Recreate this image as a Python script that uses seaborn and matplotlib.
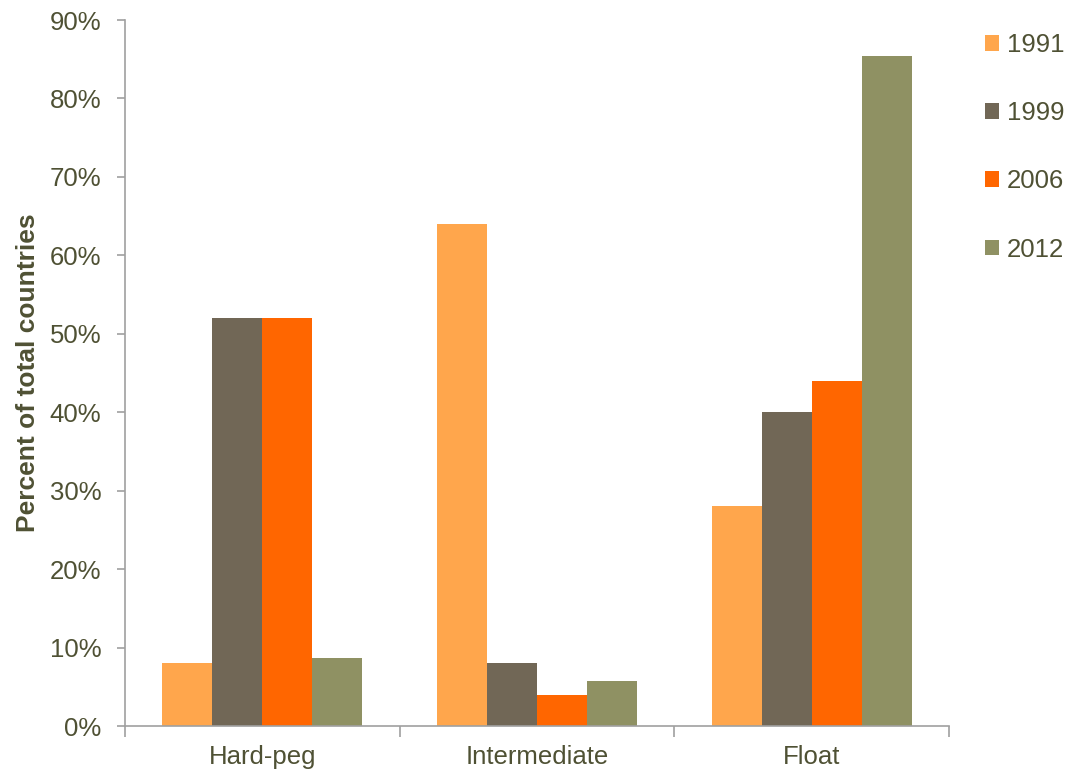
import matplotlib
matplotlib.use("Agg")
import matplotlib.pyplot as plt
from matplotlib.ticker import FixedLocator, FuncFormatter, MultipleLocator
import seaborn as sns
import pandas as pd

# Exchange-rate regime shares (percent of total countries)
regimes = ["Hard-peg", "Intermediate", "Float"]
years = ["1991", "1999", "2006", "2012"]
share_1991 = [8, 64, 28]
share_1999 = [52, 8, 40]
share_2006 = [52, 4, 44]
share_2012 = [8.7, 5.8, 85.4]
colors = ["#FFA64C", "#716756", "#FF6600", "#8F9163"]

text_color = "#4F5134"
axis_color = "#A0A0A0"

rows = []
for year, values in zip(years, [share_1991, share_1999, share_2006, share_2012]):
    for regime, v in zip(regimes, values):
        rows.append({"Regime": regime, "Year": year, "Share": v})
df = pd.DataFrame(rows)

sns.set_theme(style="white")
plt.rcParams["font.family"] = ["Liberation Sans", "DejaVu Sans"]

fig = plt.figure(figsize=(10.69, 7.73), dpi=100)
ax = fig.add_axes([125 / 1069, 47 / 773, 824 / 1069, 706 / 773])

sns.barplot(
    data=df, x="Regime", y="Share", hue="Year",
    order=regimes, hue_order=years,
    palette=dict(zip(years, colors)),
    width=0.727, linewidth=0, saturation=1, errorbar=None, ax=ax,
)

ax.set_xlim(-0.5, 2.5)
ax.set_ylim(0, 90)
ax.yaxis.set_major_locator(MultipleLocator(10))
ax.yaxis.set_major_formatter(FuncFormatter(lambda v, _: f"{v:.0f}%"))

# Category boundaries carry the tick marks; labels sit at the centres
ax.xaxis.set_minor_locator(FixedLocator([-0.5, 0.5, 1.5, 2.5]))
ax.tick_params(axis="x", which="major", length=0, pad=14,
               labelsize=18.5, labelcolor=text_color)
ax.tick_params(axis="x", which="minor", length=8, width=1.2,
               color=axis_color, direction="out")
ax.tick_params(axis="y", length=6, width=1.2, color=axis_color,
               direction="out", pad=11, labelsize=18.5, labelcolor=text_color)
ax.xaxis.set_ticks_position("bottom")
ax.yaxis.set_ticks_position("left")

for side in ["top", "right"]:
    ax.spines[side].set_visible(False)
for side in ["left", "bottom"]:
    ax.spines[side].set_color(axis_color)
    ax.spines[side].set_linewidth(1.2)

ax.set_xlabel("")
ax.set_ylabel("Percent of total countries", fontsize=19, fontweight="bold",
              color=text_color, va="center")
ax.yaxis.set_label_coords(-97 / 824, 0.5)

leg = ax.legend(
    loc="upper left", bbox_to_anchor=(985 / 1069, 1 - 33 / 773),
    bbox_transform=fig.transFigure, frameon=False, fontsize=18.5,
    handlelength=0.56, handleheight=0.56, handletextpad=0.3,
    labelspacing=1.72, borderpad=0, borderaxespad=0,
)
for t in leg.get_texts():
    t.set_color(text_color)

fig.savefig("out.png", dpi=100)
